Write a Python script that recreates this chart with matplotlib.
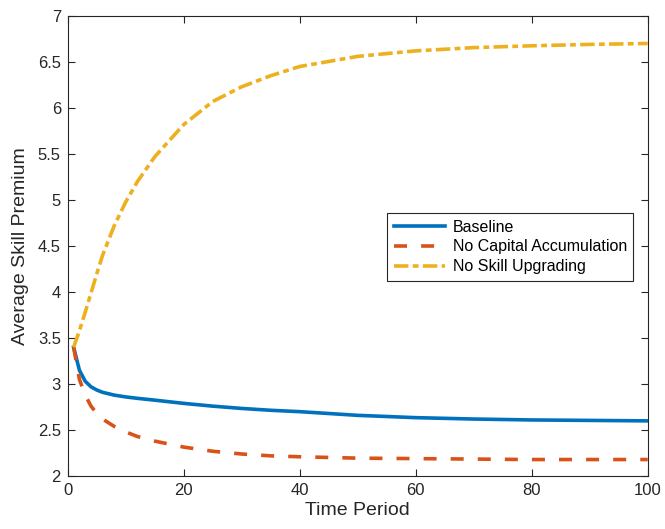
import matplotlib
matplotlib.use("Agg")
import matplotlib.pyplot as plt

plt.rcParams['font.family'] = ['Liberation Sans', 'DejaVu Sans']

# time periods and series
t = [1, 2, 3, 4, 5, 6, 8, 10, 12, 15, 20, 25, 30, 35, 40, 50, 60, 70, 80, 90, 100]
baseline = [3.40, 3.15, 3.03, 2.97, 2.935, 2.91, 2.88, 2.86, 2.845, 2.825, 2.79,
            2.76, 2.735, 2.715, 2.70, 2.66, 2.635, 2.62, 2.61, 2.605, 2.60]
no_capital = [3.40, 3.05, 2.88, 2.76, 2.68, 2.62, 2.54, 2.48, 2.43, 2.38, 2.315,
              2.27, 2.24, 2.22, 2.21, 2.195, 2.19, 2.185, 2.18, 2.18, 2.18]
no_skill = [3.40, 3.58, 3.78, 3.99, 4.20, 4.40, 4.72, 4.98, 5.20, 5.47, 5.82,
            6.07, 6.23, 6.35, 6.45, 6.56, 6.62, 6.655, 6.675, 6.69, 6.70]

labels = ['Baseline', 'No Capital Accumulation', 'No Skill Upgrading']
x_ticks = [0, 20, 40, 60, 80, 100]
y_ticks = [2, 2.5, 3, 3.5, 4, 4.5, 5, 5.5, 6, 6.5, 7]

fig = plt.figure(figsize=(6.65, 5.29), dpi=100)
ax = fig.add_axes([0.102, 0.100, 0.872, 0.870])

ax.plot(t, baseline, color='#0072BD', lw=2.6, label=labels[0])
ax.plot(t, no_capital, color='#D95319', lw=2.6, linestyle=(0, (3.6, 3.9)), label=labels[1])
ax.plot(t, no_skill, color='#EDB120', lw=2.6, linestyle=(0, (4, 1.2, 1.6, 1.2)), label=labels[2])

ax.set_xlim(0, 100)
ax.set_ylim(2, 7)
ax.set_xticks(x_ticks)
ax.set_yticks(y_ticks)
ax.set_yticklabels(['2', '2.5', '3', '3.5', '4', '4.5', '5', '5.5', '6', '6.5', '7'])

axis_col = '#262626'
for s in ax.spines.values():
    s.set_color(axis_col)
    s.set_linewidth(0.8)
ax.tick_params(direction='in', length=5, width=0.8, colors=axis_col,
               labelsize=12, top=True, right=True, pad=5)

ax.set_xlabel('Time Period', fontsize=14, color=axis_col, labelpad=3)
ax.set_ylabel('Average Skill Premium', fontsize=14, color=axis_col, labelpad=6)

leg = ax.legend(loc='upper left', bbox_to_anchor=(0.551, 0.571), fontsize=11.5,
                fancybox=False, framealpha=1, edgecolor=axis_col,
                handlelength=3.2, handletextpad=0.5, borderpad=0.4,
                labelspacing=0.3, borderaxespad=0)
leg.get_frame().set_linewidth(0.8)

fig.savefig('out.png', dpi=100)
